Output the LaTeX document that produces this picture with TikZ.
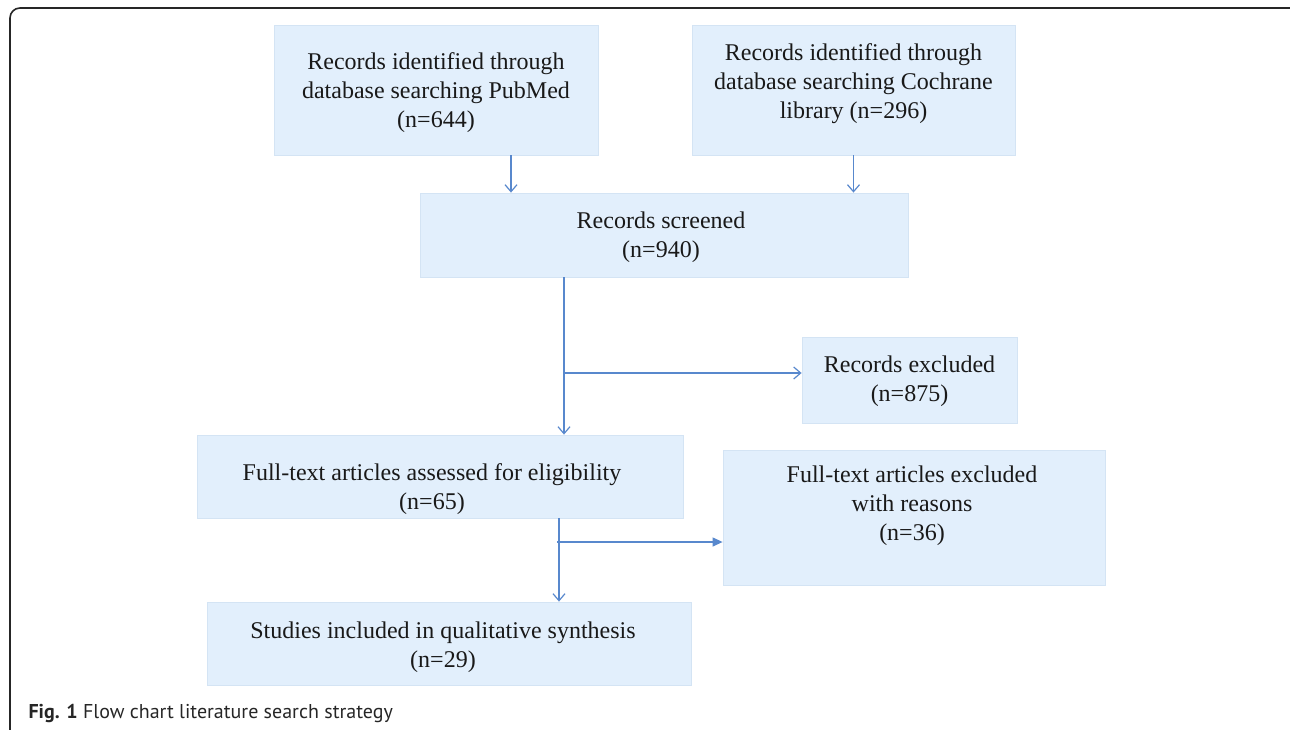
\documentclass[tikz,border=0pt]{standalone}
\usepackage{fontspec}
\setmainfont{Liberation Serif}
\newfontfamily\capfont{PT Sans}
\usetikzlibrary{arrows.meta}

\definecolor{boxfill}{RGB}{226,239,252}
\definecolor{boxline}{RGB}{212,228,244}
\definecolor{flowblue}{RGB}{88,136,205}

\begin{document}
\begin{tikzpicture}[x=1pt, y=-1pt]
    % Stili
    \tikzset{
        record/.style={rectangle, fill=boxfill, draw=boxline, line width=0.8pt, inner sep=0pt},
        boxtext/.style={align=center, font=\fontsize{24}{29}\selectfont, text=black!90},
        flow/.style={-{Straight Barb[length=7pt, width=12pt]}, line width=1.2pt, draw=flowblue},
        flowfilled/.style={-{Triangle[length=10pt, width=9pt]}, line width=1.2pt, draw=flowblue, fill=flowblue}
    }

    % Cornice della figura
    \useasboundingbox (0,0) rectangle (1290,730);
    \begin{scope}
        \clip (0,0) rectangle (1290,730);
        \draw[line width=1.6pt, draw=black!85, rounded corners=10pt] (10,8) rectangle (1300,745);
    \end{scope}

    % Riquadri
    \node[record, minimum width=324pt, minimum height=130pt] (pubmed) at (436,90) {};
    \node[boxtext] (pubmedtext) at ([shift={(0,3)}]pubmed.center) {Records identified through\\database searching PubMed\\(n=644)};

    \node[record, minimum width=323pt, minimum height=130pt] (cochrane) at (853.5,90) {};
    \node[boxtext] (cochranetext) at ([shift={(0,-6)}]cochrane.center) {Records identified through\\database searching Cochrane\\library (n=296)};

    \node[record, minimum width=488pt, minimum height=84pt] (screened) at (664,235) {};
    \node[boxtext] (screenedtext) at ([shift={(-3,2)}]screened.center) {Records screened\\(n=940)};

    \node[record, minimum width=215pt, minimum height=86pt] (excluded) at (909.5,380) {};
    \node[boxtext] (excludedtext) at ([shift={(0,1)}]excluded.center) {Records excluded\\(n=875)};

    \node[record, minimum width=486pt, minimum height=83pt] (fulltext) at (440,476.5) {};
    \node[boxtext] (fulltexttext) at ([shift={(-8,13)}]fulltext.center) {Full-text articles assessed for eligibility\\(n=65)};

    \node[record, minimum width=382pt, minimum height=135pt] (ftexcl) at (914,517.5) {};
    \node[boxtext] (ftexcltext) at ([shift={(-2,-12)}]ftexcl.center) {Full-text articles excluded\\with reasons\\(n=36)};

    \node[record, minimum width=484pt, minimum height=83pt] (included) at (449,643.5) {};
    \node[boxtext] (includedtext) at ([shift={(-6,4)}]included.center) {Studies included in qualitative synthesis\\(n=29)};

    % Frecce
    \draw[flow] ([xshift=75pt]pubmed.south) -- ([xshift=75pt]pubmed.south |- screened.north);
    \draw[flow] (cochrane.south) -- (cochrane.south |- screened.north);
    \draw[flow] ([xshift=-100pt]screened.south) -- ([xshift=-100pt]screened.south |- fulltext.north);
    \coordinate (split1) at (564,373);
    \draw[flow] (split1) -- (split1 -| excluded.west);
    \draw[flow] ([xshift=119pt]fulltext.south) -- ([xshift=119pt]fulltext.south |- included.north);
    \coordinate (split2) at (557,542);
    \draw[flowfilled] (split2) -- (split2 -| ftexcl.west);

    % Didascalia
    \node[anchor=base west, font=\capfont\fontsize{20}{24}\selectfont, text=black!85] (caption) at (25,718) {\textbf{Fig. 1} Flow chart literature search strategy};

\end{tikzpicture}
\end{document}
